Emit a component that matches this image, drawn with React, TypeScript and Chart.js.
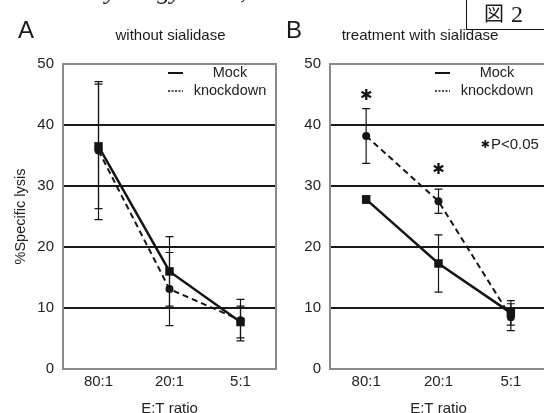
import React, { useEffect, useRef } from 'react';
import { Chart, registerables } from 'chart.js';
Chart.register(...registerables);

// ---- data ----
const categories = ['80:1', '20:1', '5:1'];
const seriesNames = ['Mock', 'knockdown'];
const yTickValues = [0, 10, 20, 30, 40, 50];

// Panel A: without sialidase
const mockA = [36.5, 16.0, 7.7];
const mockAErr = [10.2, 5.7, 2.6];
const knockA = [35.8, 13.1, 8.0];
const knockAErr = [11.3, 6.0, 3.4];

// Panel B: treatment with sialidase
const mockB = [27.8, 17.3, 9.2];
const mockBErr = [0.6, 4.7, 2.0];
const knockB = [38.2, 27.5, 8.5];
const knockBErr = [4.5, 2.0, 2.2];
const sigMarkB = [44.8, 32.6, null];
const pLabel = 'P<0.05';

const SANS = '"Liberation Sans", Arial, sans-serif';
const INK = '#151515';

const annotPlugin = {
  id: 'annot',
  beforeDatasetsDraw(chart: any, _a: any, opts: any) {
    const { ctx } = chart;
    const x = chart.scales.x;
    const y = chart.scales.y;
    ctx.save();
    ctx.strokeStyle = INK;
    ctx.lineWidth = 1.2;
    ctx.setLineDash([]);
    chart.data.datasets.forEach((ds: any, i: number) => {
      const err = opts.errors[i];
      ds.data.forEach((v: number, j: number) => {
        const px = x.getPixelForValue(j);
        const t = y.getPixelForValue(v + err[j]);
        const b = y.getPixelForValue(v - err[j]);
        ctx.beginPath();
        ctx.moveTo(px, t);
        ctx.lineTo(px, b);
        ctx.moveTo(px - 4, t);
        ctx.lineTo(px + 4, t);
        ctx.moveTo(px - 4, b);
        ctx.lineTo(px + 4, b);
        ctx.stroke();
      });
    });
    ctx.restore();
  },
  afterDraw(chart: any, _a: any, opts: any) {
    const { ctx, chartArea: a } = chart;
    const x = chart.scales.x;
    const y = chart.scales.y;
    ctx.save();
    ctx.strokeStyle = '#8a8a8a';
    ctx.lineWidth = 2;
    ctx.setLineDash([]);
    ctx.strokeRect(a.left, a.top, a.right - a.left, a.bottom - a.top);
    // legend
    chart.data.datasets.forEach((ds: any, i: number) => {
      const ly = a.top + 9 + i * 18;
      ctx.beginPath();
      ctx.strokeStyle = INK;
      ctx.setLineDash(i === 0 ? [] : [2, 1.5]);
      ctx.lineWidth = i === 0 ? 2 : 1.5;
      ctx.moveTo(a.left + 105, ly);
      ctx.lineTo(a.left + 120, ly);
      ctx.stroke();
      ctx.setLineDash([]);
      ctx.fillStyle = '#222';
      ctx.font = `14.5px ${SANS}`;
      ctx.textAlign = 'center';
      ctx.textBaseline = 'middle';
      ctx.fillText(ds.label, a.left + 167, ly);
    });
    // significance marks
    if (opts.sig) {
      ctx.fillStyle = INK;
      ctx.font = '15px "DejaVu Sans"';
      ctx.textAlign = 'center';
      ctx.textBaseline = 'middle';
      opts.sig.forEach((v: number | null, j: number) => {
        if (v == null) return;
        ctx.fillText('\u2731', x.getPixelForValue(j), y.getPixelForValue(v));
      });
      const py = a.top + 81;
      ctx.font = '11px "DejaVu Sans"';
      ctx.fillText('\u2731', a.left + 155, py);
      ctx.font = `15px ${SANS}`;
      ctx.fillStyle = '#222';
      ctx.textAlign = 'left';
      ctx.fillText(pLabel, a.left + 161, py);
    }
    ctx.restore();
  },
};

function makeConfig(p: any): any {
  return {
    type: 'line',
    data: {
      labels: categories,
      datasets: [
        {
          label: seriesNames[0],
          data: p.mock,
          borderColor: INK,
          backgroundColor: INK,
          borderWidth: 2.5,
          pointStyle: 'rect',
          pointRadius: 6,
          pointBorderWidth: 0,
          tension: 0,
        },
        {
          label: seriesNames[1],
          data: p.knock,
          borderColor: INK,
          backgroundColor: INK,
          borderWidth: 2,
          borderDash: [6, 4],
          pointStyle: 'circle',
          pointRadius: 4,
          pointBorderWidth: 0,
          tension: 0,
        },
      ],
    },
    options: {
      responsive: false,
      animation: false,
      layout: { padding: { top: 64, right: p.padRight, bottom: 0, left: 0 } },
      plugins: {
        legend: { display: false },
        tooltip: { enabled: false },
        annot: { errors: [p.mockErr, p.knockErr], sig: p.sig },
      },
      scales: {
        x: {
          offset: true,
          grid: { display: false, drawTicks: false },
          border: { display: false },
          ticks: { color: '#222', font: { family: SANS, size: 15 }, padding: 4 },
          title: {
            display: true,
            text: 'E:T ratio',
            color: '#222',
            font: { family: SANS, size: 15 },
            padding: { top: 0, bottom: 7 },
          },
          afterFit: (s: any) => {
            s.height = 56;
          },
        },
        y: {
          min: 0,
          max: 50,
          afterBuildTicks: (s: any) => {
            s.ticks = yTickValues.map((v) => ({ value: v }));
          },
          grid: {
            drawTicks: false,
            lineWidth: 2,
            color: (c: any) =>
              c.tick && (c.tick.value === 0 || c.tick.value === 50) ? 'rgba(0,0,0,0)' : '#1a1a1a',
          },
          border: { display: false },
          ticks: { color: '#222', font: { family: SANS, size: 15 }, padding: 9 },
          title: {
            display: p.yTitle,
            text: '%Specific lysis',
            color: '#222',
            font: { family: SANS, size: 14.5 },
            padding: { top: 12, bottom: 0 },
          },
          afterFit: (s: any) => {
            s.width = p.yWidth;
          },
        },
      },
    },
    plugins: [annotPlugin],
  };
}

function Panel(props: any) {
  const ref = useRef<HTMLCanvasElement>(null);
  useEffect(() => {
    const chart = new Chart(ref.current as HTMLCanvasElement, makeConfig(props.spec));
    return () => chart.destroy();
  }, []);
  return (
    <canvas
      ref={ref}
      width={props.w}
      height={425}
      style={{ position: 'absolute', left: props.left, top: 0, width: props.w, height: 425 }}
    />
  );
}

const txt: React.CSSProperties = {
  position: 'absolute',
  whiteSpace: 'nowrap',
  color: '#1a1a1a',
  fontFamily: SANS,
};

export default function App() {
  return (
    <div
      style={{
        position: 'fixed',
        left: 0,
        top: 0,
        width: 544,
        height: 413,
        overflow: 'hidden',
        background: '#fff',
      }}
    >
      <Panel
        left={0}
        w={282}
        spec={{ mock: mockA, mockErr: mockAErr, knock: knockA, knockErr: knockAErr, yTitle: true, yWidth: 63, padRight: 2 }}
      />
      <Panel
        left={282}
        w={272}
        spec={{ mock: mockB, mockErr: mockBErr, knock: knockB, knockErr: knockBErr, sig: sigMarkB, yTitle: false, yWidth: 48, padRight: 7 }}
      />
      <div
        style={{
          ...txt,
          left: 88,
          top: -22,
          fontFamily: '"Liberation Serif", serif',
          fontStyle: 'italic',
          fontSize: 26,
          lineHeight: '26px',
        }}
      >
        Cytology 2009,
      </div>
      <div style={{ ...txt, left: 466, top: -2, width: 100, height: 30, border: '1.5px solid #111' }} />
      <div style={{ ...txt, left: 484, top: 3, fontFamily: '"Noto Sans CJK JP"', fontSize: 20, lineHeight: '20px' }}>図</div>
      <div style={{ ...txt, left: 511, top: 2, fontFamily: '"Liberation Serif", serif', fontSize: 24, lineHeight: '24px' }}>2</div>
      <div style={{ ...txt, left: 18, top: 18, fontSize: 24, lineHeight: '24px' }}>A</div>
      <div style={{ ...txt, left: 286, top: 18, fontSize: 24, lineHeight: '24px' }}>B</div>
      <div style={{ ...txt, left: 170.5, top: 27, fontSize: 15, lineHeight: '15px', transform: 'translateX(-50%)' }}>
        without sialidase
      </div>
      <div style={{ ...txt, left: 420, top: 27, fontSize: 15, lineHeight: '15px', transform: 'translateX(-50%)' }}>
        treatment with sialidase
      </div>
    </div>
  );
}
